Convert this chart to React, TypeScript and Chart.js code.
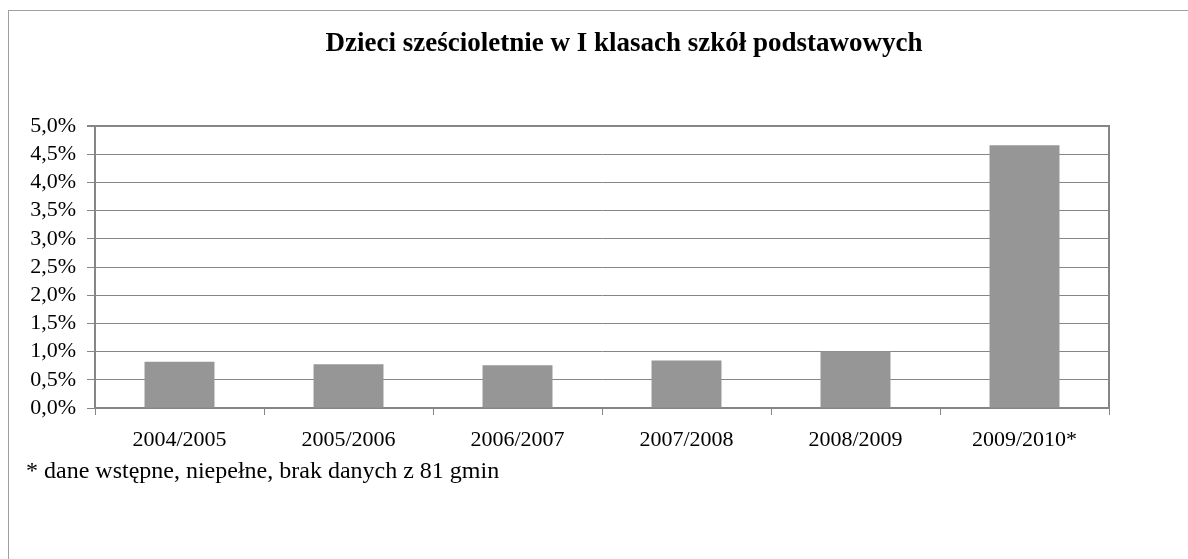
import React, { useEffect, useRef } from "react";
import { Chart, registerables } from "chart.js";

Chart.register(...registerables);

const categories = ["2004/2005", "2005/2006", "2006/2007", "2007/2008", "2008/2009", "2009/2010*"];
const shares = [0.82, 0.775, 0.757, 0.84, 1.0, 4.66];
const yMin = 0;
const yMax = 5;
const yStep = 0.5;
const titleText = "Dzieci sześcioletnie w I klasach szkół podstawowych";
const footnoteText = "* dane wstępne, niepełne, brak danych z 81 gmin";

const FONT = "'Liberation Serif', 'Times New Roman', serif";
const AXIS = "#868686";

const plotBorder = {
  id: "plotBorder",
  afterDatasetsDraw(chart: any) {
    const { ctx, chartArea } = chart;
    ctx.save();
    ctx.strokeStyle = AXIS;
    ctx.lineWidth = 2;
    ctx.beginPath();
    ctx.moveTo(chartArea.left, chartArea.top);
    ctx.lineTo(chartArea.right, chartArea.top);
    ctx.lineTo(chartArea.right, chartArea.bottom);
    ctx.stroke();
    ctx.restore();
  },
};

export default function App() {
  const ref = useRef<HTMLCanvasElement>(null);

  useEffect(() => {
    if (!ref.current) return;
    const chart = new Chart(ref.current, {
      type: "bar",
      data: {
        labels: categories,
        datasets: [
          {
            data: shares,
            backgroundColor: "#969696",
            borderWidth: 0,
            barPercentage: 0.414,
            categoryPercentage: 1,
          },
        ],
      },
      options: {
        responsive: false,
        animation: false,
        devicePixelRatio: 1,
        layout: { padding: { left: 0, right: 79, top: 126, bottom: 0 } },
        plugins: {
          legend: { display: false },
          tooltip: { enabled: false },
          title: { display: false },
        },
        scales: {
          x: {
            offset: true,
            afterFit: (s: any) => {
              s.height = 151;
            },
            grid: {
              offset: true,
              drawOnChartArea: false,
              drawTicks: true,
              tickLength: 7,
              color: AXIS,
              lineWidth: 1,
            },
            border: { display: true, color: AXIS, width: 2 },
            ticks: {
              color: "#000",
              padding: 12,
              maxRotation: 0,
              autoSkip: false,
              font: { family: FONT, size: 22 },
            },
          },
          y: {
            min: yMin,
            max: yMax,
            afterFit: (s: any) => {
              s.width = 95;
            },
            grid: {
              color: AXIS,
              lineWidth: (c: any) => (c.tick && c.tick.value === yMax ? 2 : 1),
              drawTicks: true,
              tickLength: 8,
            },
            border: { display: true, color: AXIS, width: 2 },
            ticks: {
              stepSize: yStep,
              autoSkip: false,
              color: "#000",
              padding: 11,
              font: { family: FONT, size: 22 },
              callback: (v: any) => Number(v).toFixed(1).replace(".", ",") + "%",
            },
          },
        },
      },
      plugins: [plotBorder],
    });
    return () => chart.destroy();
  }, []);

  return (
    <div
      style={{
        position: "absolute",
        left: 0,
        top: 0,
        width: 1188,
        height: 559,
        overflow: "hidden",
        background: "#fff",
      }}
    >
      <div
        style={{
          position: "absolute",
          left: 8,
          top: 10,
          width: 1250,
          height: 700,
          border: "1px solid #a0a0a0",
        }}
      />
      <canvas
        ref={ref}
        width={1188}
        height={559}
        style={{ position: "absolute", left: 0, top: 0, width: 1188, height: 559 }}
      />
      <div
        style={{
          position: "absolute",
          left: 624,
          top: 29,
          transform: "translateX(-50%)",
          whiteSpace: "nowrap",
          fontFamily: FONT,
          fontWeight: "bold",
          fontSize: 27,
          lineHeight: 1,
          color: "#000",
        }}
      >
        {titleText}
      </div>
      <div
        style={{
          position: "absolute",
          left: 26,
          top: 458,
          whiteSpace: "nowrap",
          fontFamily: FONT,
          fontSize: 24,
          lineHeight: 1,
          color: "#000",
        }}
      >
        {footnoteText}
      </div>
    </div>
  );
}
